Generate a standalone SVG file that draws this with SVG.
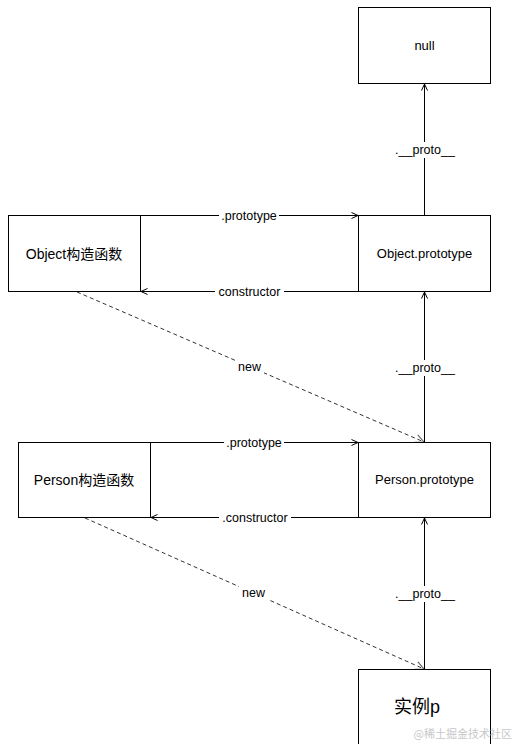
<svg xmlns="http://www.w3.org/2000/svg" width="523" height="744" viewBox="0 0 523 744">
<style>
.box{fill:#fff;stroke:#000;stroke-width:1}
.t{font-family:"Liberation Sans",Arial,"Noto Sans CJK SC",sans-serif;font-size:13px;fill:#000;text-anchor:middle;dominant-baseline:central}
.cjk{font-size:14px}
.big{font-size:18px}
.lbl{font-family:"Liberation Sans",Arial,sans-serif;font-size:12.5px;fill:#000;text-anchor:middle;dominant-baseline:central}
.ln{stroke:#000;stroke-width:1;fill:none}
.dash{stroke:#333;stroke-width:1;fill:none;stroke-dasharray:4 3}
.bg{fill:#fff}
.wm{font-family:"Noto Sans CJK SC","Liberation Sans",sans-serif;font-size:11px;fill:#c8c8c8;text-anchor:end}
</style>
<defs>
<marker id="arr" viewBox="0 0 8 8" refX="7.5" refY="4" markerWidth="8" markerHeight="8" markerUnits="userSpaceOnUse" orient="auto">
<path d="M1,1 L7.5,4 L1,7" fill="none" stroke="#000" stroke-width="1"/>
</marker>
<marker id="arrd" viewBox="0 0 10 10" refX="9.5" refY="5" markerWidth="10" markerHeight="10" markerUnits="userSpaceOnUse" orient="auto">
<path d="M1,1 L9.5,5 L1,9" fill="none" stroke="#555" stroke-width="1"/>
</marker>
</defs>

<g id="connectors">
<line class="ln" x1="424.5" y1="215" x2="424.5" y2="84" marker-end="url(#arr)"/>
<line class="ln" x1="140" y1="215.5" x2="358" y2="215.5" marker-end="url(#arr)"/>
<line class="ln" x1="358" y1="291.5" x2="141" y2="291.5" marker-end="url(#arr)"/>
<line class="dash" x1="77" y1="292" x2="424" y2="442" marker-end="url(#arrd)"/>
<line class="ln" x1="424.5" y1="442" x2="424.5" y2="292" marker-end="url(#arr)"/>
<line class="ln" x1="150" y1="442.5" x2="358" y2="442.5" marker-end="url(#arr)"/>
<line class="ln" x1="358" y1="517.5" x2="151" y2="517.5" marker-end="url(#arr)"/>
<line class="dash" x1="85" y1="518" x2="424" y2="669" marker-end="url(#arrd)"/>
<line class="ln" x1="424.5" y1="669" x2="424.5" y2="518" marker-end="url(#arr)"/>

<rect class="bg" x="393" y="142" width="64" height="16"/>
<text class="lbl" x="425" y="150">.__proto__</text>
<rect class="bg" x="219" y="208" width="60" height="15"/>
<text class="lbl" x="249" y="215.5">.prototype</text>
<rect class="bg" x="215" y="284" width="69" height="15"/>
<text class="lbl" x="249.5" y="291.5">constructor</text>
<rect class="bg" x="235" y="360" width="29" height="15"/>
<text class="lbl" x="249.5" y="367">new</text>
<rect class="bg" x="393" y="360" width="64" height="16"/>
<text class="lbl" x="425" y="368">.__proto__</text>
<rect class="bg" x="224" y="435" width="60" height="15"/>
<text class="lbl" x="254" y="442.5">.prototype</text>
<rect class="bg" x="219" y="510" width="72" height="15"/>
<text class="lbl" x="255" y="517.5">.constructor</text>
<rect class="bg" x="239" y="586" width="29" height="15"/>
<text class="lbl" x="253.5" y="593">new</text>
<rect class="bg" x="393" y="586" width="64" height="16"/>
<text class="lbl" x="425" y="594">.__proto__</text>
</g>

<g id="null">
<rect class="box" x="358.5" y="7.5" width="132" height="76"/>
<text class="t" x="424.5" y="45.5">null</text>
</g>
<g id="object-ctor">
<rect class="box" x="8.5" y="215.5" width="132" height="76"/>
<text class="t cjk" x="74" y="253.5">Object构造函数</text>
</g>
<g id="object-prototype">
<rect class="box" x="358.5" y="215.5" width="132" height="76"/>
<text class="t" x="424.5" y="253.5">Object.prototype</text>
</g>
<g id="person-ctor">
<rect class="box" x="18.5" y="442.5" width="132" height="75"/>
<text class="t cjk" x="84" y="479.5">Person构造函数</text>
</g>
<g id="person-prototype">
<rect class="box" x="358.5" y="442.5" width="132" height="75"/>
<text class="t" x="424.5" y="479.5">Person.prototype</text>
</g>
<g id="instance-p">
<rect class="box" x="358.5" y="669.5" width="132" height="80"/>
<text class="t big" x="417" y="707">实例p</text>
</g>
<text class="wm" x="512" y="738">@稀土掘金技术社区</text>
</svg>
